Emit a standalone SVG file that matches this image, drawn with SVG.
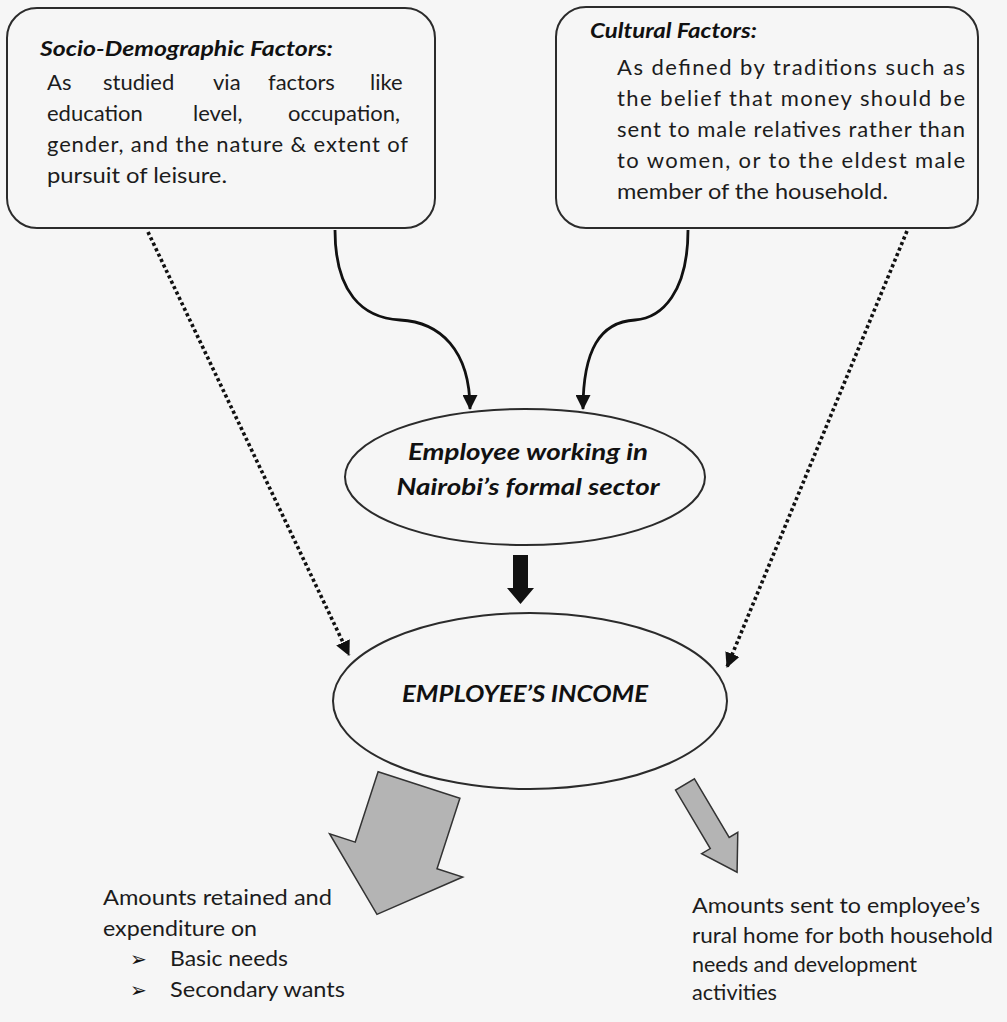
<svg xmlns="http://www.w3.org/2000/svg" width="1007" height="1022" viewBox="0 0 1007 1022">
<defs>
<style>
.box{fill:none;stroke:#2b2b2b;stroke-width:2}
.ell{fill:none;stroke:#2b2b2b;stroke-width:2}
.t{font-family:Lato,"Liberation Sans",sans-serif;font-size:22px;fill:#1c1c1c}
.h{font-family:Lato,"Liberation Sans",sans-serif;font-size:21px;font-weight:bold;font-style:italic;fill:#111}
.e{font-family:Lato,"Liberation Sans",sans-serif;font-size:23px;font-weight:bold;font-style:italic;fill:#111}
.b{font-family:"DejaVu Sans",sans-serif;font-size:20px;fill:#111}
.solid{fill:none;stroke:#111;stroke-width:2.8}
.dot{fill:none;stroke:#111;stroke-width:3.6;stroke-dasharray:3.2 2.8}
.gray{fill:#b4b4b4;stroke:#333;stroke-width:1.5}
</style>
<marker id="ah" markerUnits="userSpaceOnUse" markerWidth="15" markerHeight="15" viewBox="0 0 15 15" refX="14" refY="7.5" orient="auto"><path d="M0,0 L15,7.5 L0,15 z" fill="#111"/></marker>
</defs>
<rect width="1007" height="1022" fill="#f6f6f6"/>

<g id="connectors">
<path class="solid" d="M335,230 C335,292 362,318 400,320 C440,322 470,350 470,409" marker-end="url(#ah)"/>
<path class="solid" d="M688,230 C688,292 662,318 635,320 C600,322 583,350 583,409" marker-end="url(#ah)"/>
<path class="dot" d="M148,232 L349,655" marker-end="url(#ah)"/>
<path class="dot" d="M907,231 L727,667" marker-end="url(#ah)"/>
<polygon points="513,555 528,555 528,588 534,588 520.5,604 507,588 513,588" fill="#111"/>
<polygon class="gray" transform="translate(419,785) rotate(108)" points="0,-43 74,-43 74,-70 136,0 74,70 74,43 0,43"/>
<polygon class="gray" transform="translate(685,784.5) rotate(59.3)" points="0,-11 68,-11 68,-21 102,0 68,21 68,11 0,11"/>
</g>

<g id="socio-demographic">
<rect class="box" x="7" y="8" width="428" height="220" rx="30"/>
<text class="h" x="40" y="56" textLength="293" lengthAdjust="spacingAndGlyphs">Socio-Demographic Factors:</text>
<text class="t" y="90"><tspan x="47">As</tspan><tspan x="103">studied</tspan><tspan x="213">via</tspan><tspan x="268">factors</tspan><tspan x="370">like</tspan></text>
<text class="t" y="121"><tspan x="47">education</tspan><tspan x="193">level,</tspan><tspan x="288">occupation,</tspan></text>
<text class="t" x="47" y="152" textLength="361" lengthAdjust="spacing">gender, and the nature &amp; extent of</text>
<text class="t" x="47" y="183" textLength="180" lengthAdjust="spacingAndGlyphs">pursuit of leisure.</text>
</g>

<g id="cultural">
<rect class="box" x="556" y="7" width="422" height="221" rx="30"/>
<text class="h" x="590" y="38" textLength="167" lengthAdjust="spacingAndGlyphs">Cultural Factors:</text>
<text class="t" x="617" y="75" textLength="348" lengthAdjust="spacing">As defined by traditions such as</text>
<text class="t" x="617" y="106" textLength="348" lengthAdjust="spacing">the belief that money should be</text>
<text class="t" x="617" y="137" textLength="348" lengthAdjust="spacing">sent to male relatives rather than</text>
<text class="t" x="617" y="168" textLength="348" lengthAdjust="spacing">to women, or to the eldest male</text>
<text class="t" x="617" y="199" textLength="271" lengthAdjust="spacingAndGlyphs">member of the household.</text>
</g>

<g id="employee">
<ellipse class="ell" cx="525" cy="477" rx="180" ry="68"/>
<text class="e" x="528" y="460" text-anchor="middle" textLength="240" lengthAdjust="spacingAndGlyphs">Employee working in</text>
<text class="e" x="528" y="495" text-anchor="middle" textLength="263" lengthAdjust="spacingAndGlyphs">Nairobi’s formal sector</text>
</g>

<g id="income">
<ellipse class="ell" cx="530" cy="701" rx="197" ry="88"/>
<text class="e" x="525" y="702" text-anchor="middle" textLength="246" lengthAdjust="spacingAndGlyphs">EMPLOYEE’S INCOME</text>
</g>

<g id="retained">
<text class="t" x="103" y="905" textLength="229" lengthAdjust="spacingAndGlyphs">Amounts retained and</text>
<text class="t" x="103" y="936" textLength="154" lengthAdjust="spacingAndGlyphs">expenditure on</text>
<text class="b" x="130" y="966">➢</text>
<text class="t" x="170" y="966" textLength="118" lengthAdjust="spacingAndGlyphs">Basic needs</text>
<text class="b" x="130" y="997">➢</text>
<text class="t" x="170" y="997" textLength="175" lengthAdjust="spacingAndGlyphs">Secondary wants</text>
</g>

<g id="sent">
<text class="t" x="692" y="913" textLength="288" lengthAdjust="spacingAndGlyphs">Amounts sent to employee’s</text>
<text class="t" x="692" y="943" textLength="301" lengthAdjust="spacingAndGlyphs">rural home for both household</text>
<text class="t" x="692" y="972" textLength="225" lengthAdjust="spacingAndGlyphs">needs and development</text>
<text class="t" x="692" y="1000" textLength="85" lengthAdjust="spacingAndGlyphs">activities</text>
</g>
</svg>
